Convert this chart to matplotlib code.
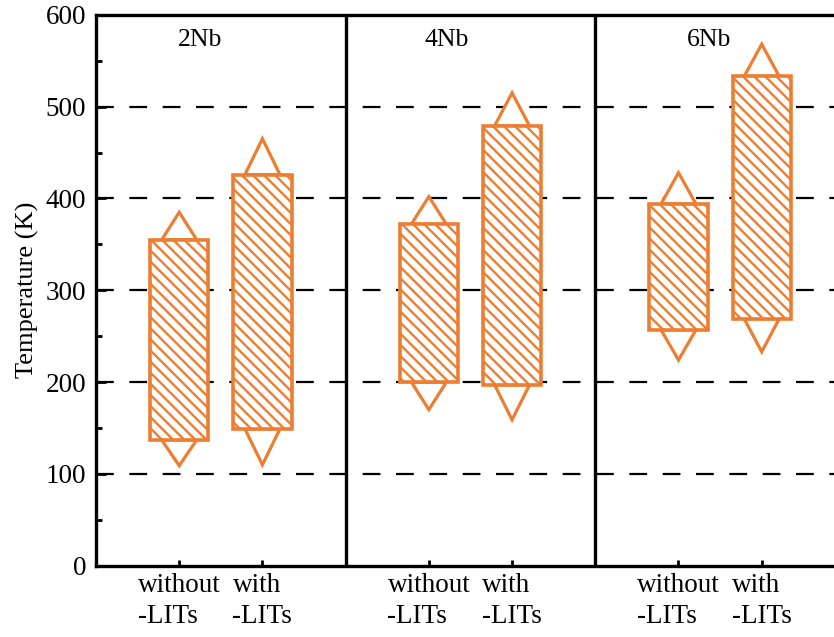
import matplotlib.pyplot as plt
from matplotlib.patches import Polygon
from matplotlib.ticker import MultipleLocator

plt.rcParams['font.family'] = ['Liberation Serif', 'DejaVu Serif']
plt.rcParams['hatch.linewidth'] = 1.7

# data (K)
groups = ['2Nb', '4Nb', '6Nb']
conditions = ['without\n-LITs', 'with\n-LITs']
low = [137, 149, 200, 197, 257, 269]
high = [355, 426, 372, 479, 394, 533]
up_tip = [385, 465, 402, 515, 428, 568]
down_tip = [109, 110, 170, 159, 224, 233]

orange = '#ED7D31'
xpos = [1, 2, 4, 5, 7, 8]
title_x = [1.25, 4.21, 7.37]

fig = plt.figure(figsize=(8.34, 6.37), dpi=100)
ax = fig.add_axes([0.1151, 0.1118, 0.898, 0.865])

# dashed grid
for v in range(100, 600, 100):
    ax.axhline(v, color='k', lw=1.6, ls=(0, (8, 7)), zorder=1)

# panel separators
for sep in [3, 6]:
    ax.axvline(sep, color='k', lw=2.4, zorder=4)

heights = [h - l for h, l in zip(high, low)]
ax.bar(xpos, heights, bottom=low, width=0.7, color='white', edgecolor=orange,
       hatch='\\\\\\', linewidth=2.6, zorder=3)

# triangles at both ends of each bar
half = 0.21
for x, lo, hi, ut, dt in zip(xpos, low, high, up_tip, down_tip):
    for base, tip in [(hi, ut), (lo, dt)]:
        tri = Polygon([(x - half, base), (x + half, base), (x, tip)], closed=True,
                      facecolor='white', edgecolor=orange, lw=2.3, zorder=2.5,
                      joinstyle='miter')
        ax.add_patch(tri)

for tx, g in zip(title_x, groups):
    ax.text(tx, 573, g, ha='center', va='center', fontsize=18.5)

ax.set_xlim(0, 9)
ax.set_ylim(0, 600)
ax.set_xticks(xpos)
ax.set_xticklabels(conditions * 3)
for lab in ax.get_xticklabels():
    lab.set_multialignment('left')
    lab.set_linespacing(1.35)
ax.yaxis.set_major_locator(MultipleLocator(100))
ax.yaxis.set_minor_locator(MultipleLocator(50))

ax.tick_params(axis='y', which='major', direction='in', length=7, width=2,
               labelsize=19.5, pad=7)
ax.tick_params(axis='y', which='minor', direction='in', length=4, width=2)
ax.tick_params(axis='x', direction='in', length=4, width=2, labelsize=19.5, pad=5)

for sp in ax.spines.values():
    sp.set_linewidth(2.4)

ax.set_ylabel('Temperature (K)', fontsize=19, labelpad=5)

fig.savefig('out.png', dpi=100)
